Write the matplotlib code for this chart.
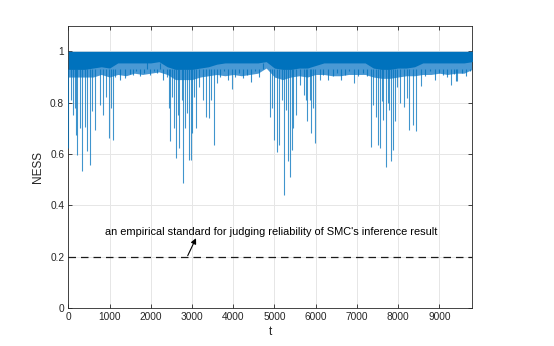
import numpy as np
import matplotlib
matplotlib.use("Agg")
import matplotlib.pyplot as plt

plt.rcParams["font.family"] = ["Liberation Sans", "DejaVu Sans"]

# ==========================
# data
# ==========================
# dense band of NESS values: sampled every 200 steps
band_t = [0, 200, 400, 600, 800, 1000, 1200, 1400, 1600, 1800,
          2000, 2200, 2400, 2600, 2800, 3000, 3200, 3400, 3600, 3800,
          4000, 4200, 4400, 4600, 4800, 5000, 5200, 5400, 5600, 5800,
          6000, 6200, 6400, 6600, 6800, 7000, 7200, 7400, 7600, 7800,
          8000, 8200, 8400, 8600, 8800, 9000, 9200, 9400, 9600, 9800]
band_floor = [0.90, 0.90, 0.90, 0.90, 0.91, 0.90, 0.91, 0.905, 0.915, 0.91,
              0.915, 0.92, 0.91, 0.89, 0.89, 0.89, 0.90, 0.905, 0.91, 0.905,
              0.91, 0.905, 0.91, 0.915, 0.935, 0.90, 0.89, 0.90, 0.905, 0.90,
              0.91, 0.91, 0.905, 0.905, 0.91, 0.91, 0.91, 0.90, 0.895, 0.895,
              0.90, 0.905, 0.905, 0.91, 0.91, 0.915, 0.91, 0.915, 0.915, 0.93]
band_core = [0.93, 0.93, 0.93, 0.935, 0.94, 0.935, 0.955, 0.955, 0.955, 0.955,
             0.955, 0.96, 0.94, 0.93, 0.93, 0.93, 0.935, 0.94, 0.95, 0.955,
             0.955, 0.955, 0.955, 0.955, 0.96, 0.935, 0.93, 0.93, 0.935, 0.935,
             0.945, 0.955, 0.955, 0.955, 0.955, 0.955, 0.955, 0.935, 0.93, 0.93,
             0.935, 0.935, 0.94, 0.955, 0.955, 0.955, 0.955, 0.955, 0.955, 0.96]

# small dips along the lower edge of the band
minor_t = [1254, 1367, 1488, 1569, 1650, 1731, 1828, 1901, 1982, 2079, 2144,
           2225, 2305,
           3679, 3776, 3881, 4043, 4148, 4229, 4326, 4423, 4528, 4633, 4730,
           6186, 6307, 6412, 6509, 6606, 6711, 6817, 7035, 7140, 7237,
           8650, 8770, 8890, 8995, 9090, 9190, 9355, 9410, 9540, 9650, 9750]
minor_low = [0.889, 0.896, 0.913, 0.909, 0.922, 0.905, 0.915, 0.963, 0.909,
             0.922, 0.915, 0.954, 0.889,
             0.90, 0.922, 0.889, 0.90, 0.915, 0.896, 0.909, 0.88, 0.922, 0.90,
             0.953,
             0.909, 0.889, 0.905, 0.915, 0.889, 0.909, 0.922, 0.905, 0.915,
             0.905,
             0.905, 0.922, 0.889, 0.915, 0.909, 0.90, 0.913, 0.883, 0.915,
             0.905, 0.922]

# deep dips below the band
spike_t = [0, 65, 105, 162, 194, 218, 283, 340, 404, 461, 526, 574, 647, 768,
           849, 914, 986, 1035, 1092, 1140,
           2385, 2450, 2466, 2515, 2563, 2612, 2652, 2685, 2749, 2790, 2838,
           2887, 2935, 2976, 3000, 3040, 3089, 3178, 3259, 3331, 3404, 3469,
           3534, 3598, 3962,
           4892, 4932, 4989, 5053, 5118, 5175, 5240, 5280, 5337, 5385, 5426,
           5458, 5531, 5620, 5717, 5765, 5798, 5862, 5895, 5943, 5984, 6105,
           6930,
           7350, 7383, 7455, 7520, 7560, 7609, 7641, 7698, 7746, 7787, 7835,
           7884, 7916, 7981, 8045, 8143, 8224, 8256, 8353, 8433, 8547, 9275,
           9436]
spike_low = [0.623, 0.81, 0.753, 0.78, 0.675, 0.597, 0.70, 0.532, 0.707, 0.61,
             0.558, 0.766, 0.694, 0.792, 0.753, 0.824, 0.662, 0.779, 0.655, 0.90,
             0.90, 0.779, 0.649, 0.824, 0.70, 0.584, 0.753, 0.623, 0.81, 0.486,
             0.70, 0.759, 0.577, 0.577, 0.681, 0.824, 0.703, 0.863, 0.81, 0.746,
             0.74, 0.81, 0.636, 0.876, 0.853,
             0.746, 0.779, 0.655, 0.606, 0.636, 0.81, 0.441, 0.772, 0.571, 0.512,
             0.616, 0.703, 0.753, 0.87, 0.831, 0.81, 0.727, 0.81, 0.681, 0.779,
             0.642, 0.889, 0.876,
             0.629, 0.792, 0.746, 0.636, 0.623, 0.805, 0.733, 0.551, 0.798, 0.772,
             0.571, 0.616, 0.727, 0.863, 0.798, 0.785, 0.818, 0.694, 0.714, 0.688,
             0.866, 0.87, 0.883]

threshold_t = [0, 9800]
threshold_val = [0.2, 0.2]

note_text = "an empirical standard for judging reliability of SMC's inference result"
note_xy = (4920, 0.298)
arrow_head = (3098, 0.272)
arrow_tail = (2897, 0.204)

# ==========================
# chart
# ==========================
blue = "#0072BD"
fig = plt.figure(figsize=(5.54, 3.46), dpi=100)
ax = fig.add_axes([0.1233, 0.1098, 0.7292, 0.8159])

# light fringe + solid core of the dense NESS trace
ax.fill_between(band_t, band_floor, 1.0, color="#4a99d4", lw=0, zorder=2)
ax.fill_between(band_t, band_core, 1.0, color=blue, lw=0, zorder=3)
ax.vlines(minor_t, minor_low, band_core[0], color=blue, lw=0.8, alpha=0.8, zorder=3)
ax.vlines(spike_t, spike_low, 0.93, color=blue, lw=0.8, alpha=0.75, zorder=3)

ax.plot(threshold_t, threshold_val, color="#1a1a1a", lw=0.9, ls=(0, (6, 4)), zorder=4)

ax.text(note_xy[0], note_xy[1], note_text, ha="center", va="center",
        fontsize=7.9, color="black", zorder=5)
ax.annotate("", xy=arrow_head, xytext=arrow_tail,
            arrowprops=dict(arrowstyle="-|>", color="black", lw=0.8,
                            mutation_scale=8, shrinkA=0, shrinkB=0), zorder=5)

ax.set_xlim(0, 9800)
ax.set_ylim(0, 1.1)
ax.set_xticks(range(0, 9001, 1000))
ax.set_yticks([0, 0.2, 0.4, 0.6, 0.8, 1])
ax.set_yticklabels(["0", "0.2", "0.4", "0.6", "0.8", "1"])
ax.grid(True, color="#e6e6e6", lw=0.7, zorder=0)
ax.set_axisbelow(True)
ax.tick_params(direction="in", length=3, width=0.6, colors="#262626",
               labelsize=7.3, top=True, right=True, pad=3)
for s in ax.spines.values():
    s.set_color("#262626")
    s.set_linewidth(0.6)
ax.set_xlabel("t", fontsize=8.5, color="#262626", labelpad=3)
ax.set_ylabel("NESS", fontsize=8.5, color="#262626", labelpad=4)

fig.savefig("out.png", dpi=100)
